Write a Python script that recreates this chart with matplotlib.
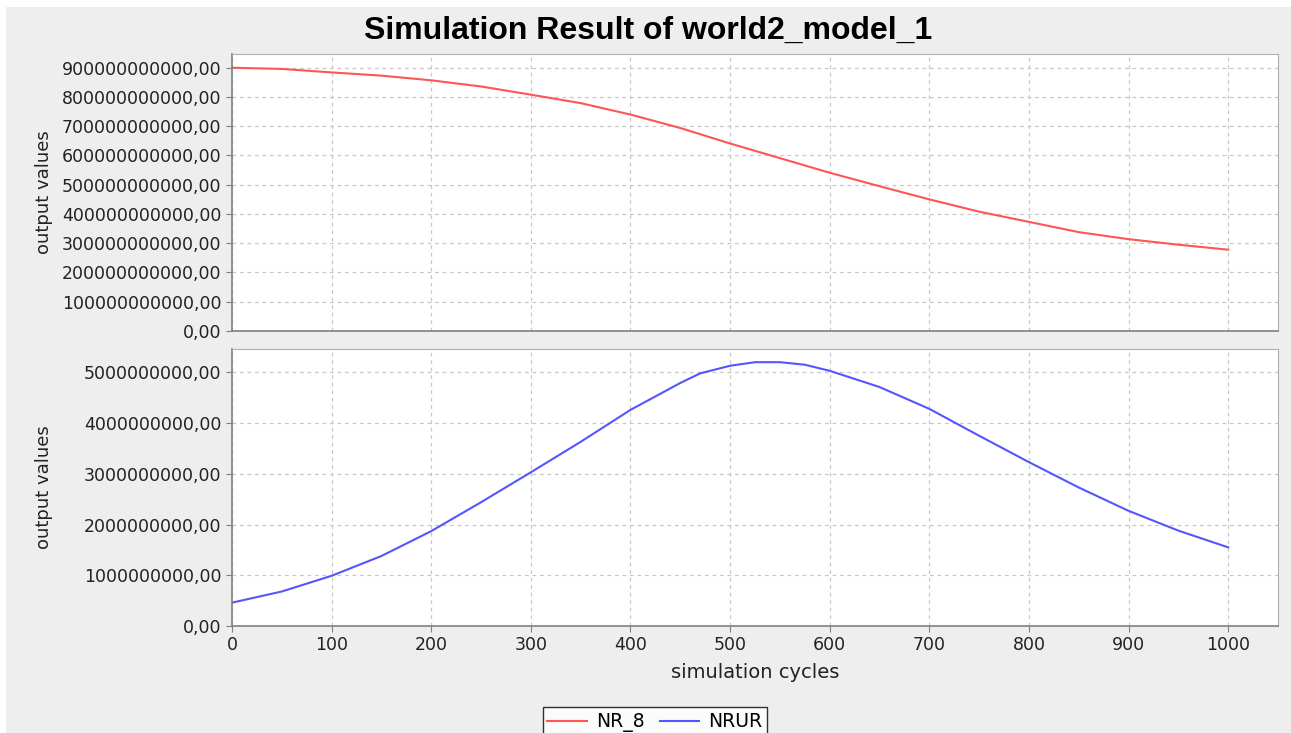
import numpy as np
import matplotlib
matplotlib.use("Agg")
import matplotlib.pyplot as plt
from matplotlib.patches import Rectangle
from matplotlib.ticker import FuncFormatter, MultipleLocator

# values
nr8_x = [0, 50, 100, 150, 200, 250, 300, 350, 400, 450, 500, 550, 600, 650, 700, 750, 800, 850, 900, 950, 1000]
nr8_y = [900e9, 896e9, 884e9, 873e9, 857e9, 836e9, 808e9, 779e9, 740e9, 694e9, 641e9, 591e9, 541e9, 495e9,
         450e9, 408e9, 373e9, 338e9, 314e9, 295e9, 278e9]

nrur_x = [0, 50, 100, 150, 200, 250, 300, 350, 400, 450, 470, 500, 525, 550, 575, 600, 650, 700, 750, 800,
          850, 900, 950, 1000]
nrur_y = [0.46e9, 0.68e9, 0.99e9, 1.38e9, 1.87e9, 2.44e9, 3.03e9, 3.63e9, 4.26e9, 4.79e9, 4.98e9, 5.13e9,
          5.2e9, 5.2e9, 5.15e9, 5.03e9, 4.71e9, 4.28e9, 3.75e9, 3.23e9, 2.73e9, 2.27e9, 1.88e9, 1.55e9]

W, H = 1291, 733
fig = plt.figure(figsize=(W / 100, H / 100), dpi=100, facecolor="white")
fig.patches.append(Rectangle((6 / W, 0), 1, 1 - 7 / H, transform=fig.transFigure,
                             facecolor="#eeeeee", edgecolor="none", zorder=-10))

def fmt(v, pos):
    return "{:.2f}".format(v).replace(".", ",")

def style(ax):
    ax.set_facecolor("white")
    ax.grid(True, color="#c8c8c8", linestyle=(0, (3, 3)), linewidth=0.9)
    ax.set_axisbelow(True)
    for s in ["top", "right"]:
        ax.spines[s].set_color("#b0b0b0")
    for s in ["left", "bottom"]:
        ax.spines[s].set_color("#808080")
        ax.spines[s].set_linewidth(1.2)
    ax.yaxis.set_major_formatter(FuncFormatter(fmt))
    ax.tick_params(axis="both", direction="out", length=4, color="#808080", labelsize=12.5,
                   labelcolor="#222222")
    ax.set_xlim(0, 1050)
    ax.xaxis.set_major_locator(MultipleLocator(100))
    ax.set_ylabel("output values", fontsize=13, color="#222222")

ax1 = fig.add_axes([232 / W, 1 - 331 / H, 1046 / W, 277 / H])
ax2 = fig.add_axes([232 / W, 1 - 626 / H, 1046 / W, 277 / H])

l1, = ax1.plot(nr8_x, nr8_y, color="#ff5555", linewidth=1.5, label="NR_8")
style(ax1)
ax1.set_ylim(0, 947e9)
ax1.yaxis.set_major_locator(MultipleLocator(100e9))
ax1.tick_params(axis="x", length=0, labelbottom=False)

l2, = ax2.plot(nrur_x, nrur_y, color="#5555ff", linewidth=1.5, label="NRUR")
style(ax2)
ax2.set_ylim(0, 5.46e9)
ax2.yaxis.set_major_locator(MultipleLocator(1e9))
ax2.set_xlabel("simulation cycles", fontsize=14, color="#222222", labelpad=6)

for ax in (ax1, ax2):
    ax.yaxis.set_label_coords(-0.171, 0.5)

fig.text(648 / W, 1 - 31 / H, "Simulation Result of world2_model_1", ha="center", va="center",
         fontsize=23, fontweight="bold", family="Liberation Sans")

leg = fig.legend(handles=[l1, l2], loc="upper center", bbox_to_anchor=(655 / W, 1 - 698 / H),
                 ncol=2, frameon=True, fancybox=False, fontsize=13.5, handlelength=2.1,
                 columnspacing=0.8, handletextpad=0.5, borderpad=0.25)
leg.get_frame().set_edgecolor("black")
leg.get_frame().set_linewidth(1.0)

fig.savefig("out.png", dpi=100, facecolor=fig.get_facecolor())
